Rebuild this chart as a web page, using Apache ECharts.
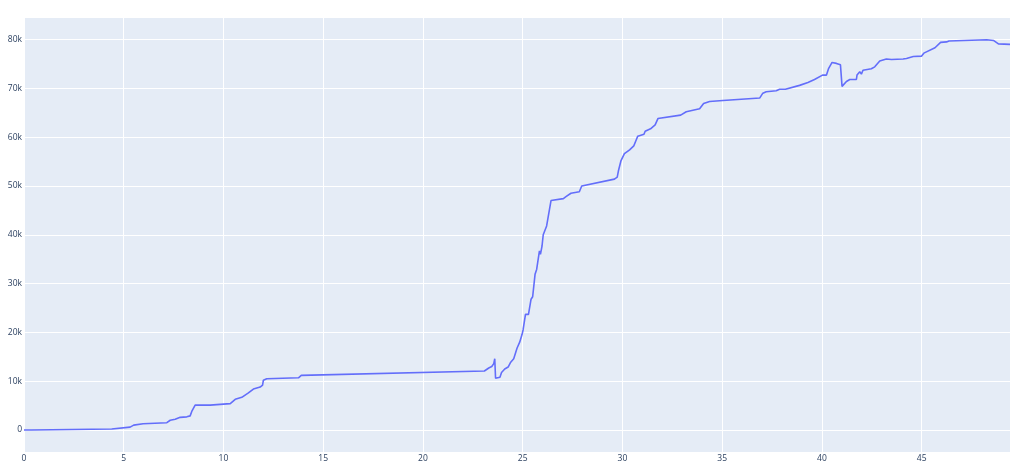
<!DOCTYPE html>
<html>
<head>
<meta charset="utf-8">
<script src="https://cdn.jsdelivr.net/npm/echarts@6/dist/echarts.min.js"></script>
<style>
  html, body { margin: 0; padding: 0; background: #fff; }
  #chart { width: 1022px; height: 476px; }
</style>
</head>
<body>
<div id="chart"></div>
<script>
// values
const xValues = [
  0, 0.38, 0.4, 4.4, 5.32, 5.5, 5.97, 7.16, 7.33, 7.58, 7.83, 8.16, 8.33, 8.41, 8.5, 8.58,
  9.33, 9.37, 10.34, 10.59, 10.92, 11.25, 11.5, 11.67, 11.84, 11.96, 12.0, 12.17, 13.76, 13.9,
  23.08, 23.3, 23.45, 23.55, 23.6, 23.64, 23.86, 23.94, 24.1, 24.27, 24.35, 24.4, 24.55, 24.72,
  24.85, 24.97, 25.02, 25.14, 25.29, 25.42, 25.5, 25.62, 25.7, 25.84, 25.89, 25.97, 26.03, 26.2,
  26.42, 27.04, 27.17, 27.42, 27.84, 27.96, 29.6, 29.74, 29.8, 29.93, 30.1, 30.36, 30.57, 30.69,
  30.77, 31.08, 31.14, 31.41, 31.64, 31.78, 32.92, 33.0, 33.2, 33.87, 34.07, 34.37, 35.04, 36.88,
  37.04, 37.21, 37.71, 37.88, 38.17, 38.22, 38.88, 39.3, 39.63, 40.03, 40.23, 40.34, 40.51, 40.73,
  40.93, 41.01, 41.1, 41.23, 41.4, 41.73, 41.76, 41.84, 41.9, 41.98, 42.06, 42.48, 42.65, 42.9,
  43.23, 43.32, 43.49, 44.07, 44.24, 44.58, 45.0, 45.11, 45.67, 45.95, 46.25, 46.37, 48.26, 48.6,
  48.85, 49.43
]
const yValues = [
  0, 0, 200, 200, 600, 1000, 1300, 1500, 2000, 2200, 2600, 2700, 2900, 3800, 4200, 5100,
  5100, 5400, 5400, 6300, 6700, 7600, 8400, 8600, 8800, 9200, 10200, 10500, 10700, 11200,
  12100, 12700, 13000, 13600, 14600, 10600, 10800, 11800, 12500, 12900, 13000, 13900, 14600, 16800,
  18000, 19600, 20500, 23700, 23700, 26800, 27300, 31900, 32900, 36700, 36000, 37700, 40000, 41800,
  47000, 47400, 47800, 48500, 48800, 50000, 51400, 51800, 53100, 55200, 56600, 57400, 58200, 59400,
  60200, 60600, 61200, 61700, 62500, 63800, 64500, 64900, 65200, 65800, 66900, 67300, 67500, 68000,
  69000, 69300, 69500, 69800, 69800, 70200, 70600, 71200, 71800, 72700, 72700, 74100, 75300, 75100,
  74800, 70400, 70700, 71400, 71800, 71800, 72700, 72700, 73400, 72900, 73700, 74000, 74400, 75600,
  76000, 76200, 75900, 76000, 76100, 76500, 76600, 77200, 78300, 79400, 79500, 79700, 79950, 79800,
  79100, 79000
]
const yTicks = [0, 10000, 20000, 30000, 40000, 50000, 60000, 70000, 80000]

const chart = echarts.init(document.getElementById('chart'))

const labelStyle = {
  color: '#2a3f5f',
  fontFamily: 'Open Sans',
  fontSize: 8.5,
}

const option = {
  animation: false,
  grid: {
    left: 24,
    right: 12,
    top: 18,
    bottom: 24,
    backgroundColor: '#e5ecf6',
    show: true,
    borderWidth: 0,
  },
  xAxis: {
    type: 'value',
    min: 0,
    max: 49.43,
    interval: 5,
    axisLine: { show: false },
    axisTick: { show: false },
    splitLine: { lineStyle: { color: '#ffffff', width: 1 } },
    axisLabel: {
      ...labelStyle,
      margin: 2,
      showMaxLabel: false,
    },
  },
  yAxis: {
    type: 'value',
    min: -4500,
    max: 84400,
    axisLine: { show: false },
    axisTick: { show: false, customValues: yTicks },
    splitLine: { lineStyle: { color: '#ffffff', width: 1 } },
    axisLabel: {
      ...labelStyle,
      margin: 2,
      customValues: yTicks,
      formatter: (v) => (v === 0 ? '0' : v / 1000 + 'k'),
    },
  },
  series: [
    {
      type: 'line',
      data: xValues.map((x, i) => [x, yValues[i]]),
      showSymbol: false,
      lineStyle: { color: '#636efa', width: 1.6 },
    },
  ],
}

chart.setOption(option)
</script>
</body>
</html>
